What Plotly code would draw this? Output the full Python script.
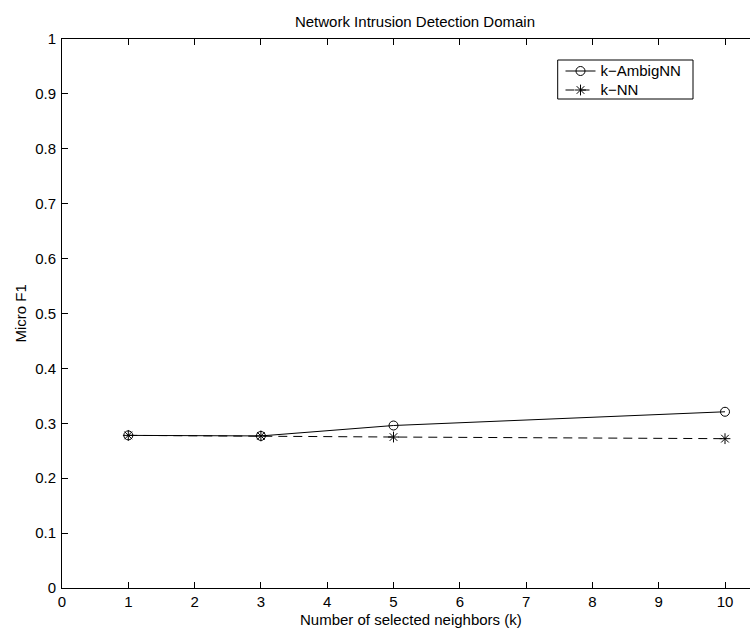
import plotly.graph_objects as go

# Micro F1 versus number of selected neighbours (k)
k_values = [1, 3, 5, 10]
ambig_f1 = [0.278, 0.277, 0.296, 0.321]
knn_f1 = [0.278, 0.277, 0.275, 0.272]

x_ticks = list(range(0, 11))
y_ticks = [round(0.1 * i, 1) for i in range(0, 11)]

FONT = "Liberation Sans, Arial, Helvetica, sans-serif"

# plot area in pixels (left/right/top/bottom) for paper-coordinate placement
PL, PR, PT, PB = 62, 750, 39, 588


def px_x(px):
    return (px - PL) / (PR - PL)


def px_y(py):
    return (PB - py) / (PB - PT)


def legend_label(text):
    # legend rows are spaced from the legend font size; the label itself is drawn at 15px
    return '<span style="font-size:15px">' + text + "</span>"


fig = go.Figure()
fig.add_trace(go.Scatter(
    x=k_values, y=ambig_f1, name=legend_label("k\u2212AmbigNN"),
    mode="lines+markers",
    line=dict(color="black", width=1),
    marker=dict(symbol="circle-open", size=9, color="black", line=dict(width=1)),
))
fig.add_trace(go.Scatter(
    x=k_values, y=knn_f1, name=legend_label("k\u2212NN"),
    mode="lines+markers",
    line=dict(color="black", width=1, dash="9px,6px"),
    marker=dict(symbol="asterisk-open", size=9, color="black", line=dict(width=1)),
))

fig.update_layout(
    width=750, height=631,
    margin=dict(l=PL, r=750 - PR, t=PT, b=631 - PB),
    paper_bgcolor="white", plot_bgcolor="white",
    font=dict(family=FONT, size=15, color="black"),
    showlegend=True,
    legend=dict(
        x=px_x(560.5), y=px_y(56.5), xanchor="left", yanchor="top",
        bgcolor="rgba(0,0,0,0)", borderwidth=0,
        font=dict(family=FONT, size=11.5, color="black"),
        itemwidth=30, tracegroupgap=0,
    ),
    shapes=[
        # legend frame
        dict(type="rect", xref="paper", yref="paper",
             x0=px_x(557.7), x1=px_x(693), y0=px_y(99), y1=px_y(60),
             line=dict(color="black", width=1), fillcolor="white", layer="below"),
    ],
    title=dict(
        text="Network Intrusion Detection Domain",
        x=415 / 750, xref="container", xanchor="center",
        y=1 - 22 / 631, yref="container", yanchor="middle",
        font=dict(family=FONT, size=15, color="black"),
    ),
    annotations=[
        dict(text="Number of selected neighbors (k)", xref="paper", yref="paper",
             x=px_x(411), y=px_y(619), xanchor="center", yanchor="middle",
             showarrow=False, font=dict(family=FONT, size=15, color="black")),
        dict(text="Micro F1", xref="paper", yref="paper", textangle=-90,
             x=px_x(20), y=0.5, xanchor="center", yanchor="middle",
             showarrow=False, font=dict(family=FONT, size=15, color="black")),
    ],
)

fig.update_xaxes(
    range=[0, (PR - PL) / 66.3], tickmode="array", tickvals=x_ticks,
    ticktext=[str(v) for v in x_ticks],
    ticks="inside", ticklen=6, tickwidth=1, tickcolor="black",
    showline=True, linecolor="black", linewidth=1, mirror="ticks",
    showgrid=False, zeroline=False,
    tickfont=dict(family=FONT, size=15, color="black"),
)
fig.update_yaxes(
    range=[0, 1], tickmode="array", tickvals=y_ticks,
    ticktext=[("%g" % v) for v in y_ticks],
    ticks="inside", ticklen=6, tickwidth=1, tickcolor="black",
    showline=True, linecolor="black", linewidth=1, mirror=False,
    showgrid=False, zeroline=False, ticklabelstandoff=2,
    tickfont=dict(family=FONT, size=15, color="black"),
)

fig.write_html("out.html")
